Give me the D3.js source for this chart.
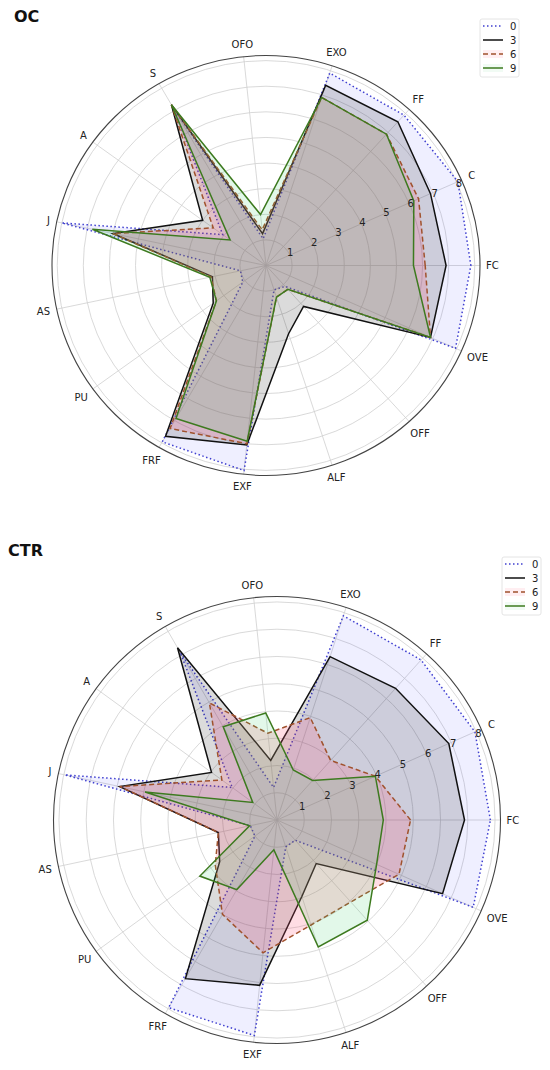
<!DOCTYPE html>
<head>
    <title>OC / CTR radar</title>
    <script src='https://cdn.jsdelivr.net/npm/d3@7/dist/d3.min.js'></script>
</head>
<style>
body {
  margin: 0;
  background: #fff;
  font-family: 'DejaVu Sans', 'Liberation Sans', Arial, sans-serif;
}
text {
    pointer-events: none;
}
</style>
<body>
    <svg></svg>
</body>

<script>

    // Data
    var axes = ['FC', 'C', 'FF', 'EXO', 'OFO', 'S', 'A', 'J', 'AS', 'PU', 'FRF', 'EXF', 'ALF', 'OFF', 'OVE'];
    var seriesNames = ['0', '3', '6', '9'];
    var radialTicks = [1, 2, 3, 4, 5, 6, 7, 8];

    // OC panel
    var oc0 = [7.85, 8.05, 7.9, 7.9, 1.05, 7.1, 2.05, 8.0, 1.0, 1.1, 7.95, 8.05, 1.0, 1.1, 7.95];
    var oc3 = [6.9, 6.9, 7.55, 7.4, 1.25, 7.25, 3.0, 6.0, 2.1, 2.5, 7.7, 7.05, 2.8, 2.15, 6.9];
    var oc6 = [6.1, 6.4, 6.9, 6.9, 1.4, 7.25, 2.5, 6.0, 2.15, 2.35, 7.35, 7.0, 1.3, 1.25, 6.9];
    var oc9 = [5.65, 6.2, 6.9, 6.9, 2.0, 7.25, 1.7, 6.8, 2.2, 2.35, 6.9, 6.9, 1.3, 1.25, 6.9];

    // CTR panel
    var ctr0 = [7.83, 7.95, 7.9, 7.88, 1.2, 7.1, 2.03, 7.96, 1.0, 1.0, 7.95, 7.95, 1.04, 1.0, 7.88];
    var ctr3 = [6.88, 6.9, 6.5, 6.3, 2.2, 7.3, 2.97, 5.9, 2.2, 2.6, 6.72, 6.1, 2.95, 2.15, 6.65];
    var ctr6 = [4.9, 3.95, 2.94, 3.95, 3.2, 4.96, 2.5, 5.9, 2.2, 2.8, 4.0, 4.9, 4.05, 4.05, 4.9];
    var ctr9 = [3.9, 3.95, 1.95, 1.93, 3.95, 3.95, 1.1, 4.95, 1.03, 3.5, 2.95, 1.1, 4.9, 4.95, 4.0];

    var rMax = 8.2;

    // Look of each series (same order as seriesNames)
    var styles = [
        { stroke: '#3f3fd0', dash: '1.5,2.5', fill: '#2020ff', fillOpacity: 0.07 },
        { stroke: '#111111', dash: null,      fill: '#000000', fillOpacity: 0.14 },
        { stroke: '#a0522d', dash: '5,3',     fill: '#ff5577', fillOpacity: 0.2 },
        { stroke: '#3d7a1f', dash: null,      fill: '#33cc66', fillOpacity: 0.14 }
    ];

    var vWidth = 550;
    var vHeight = 1070;

    var svg = d3.select('svg')
        .attr('width', vWidth)
        .attr('height', vHeight);

    drawRadar({ title: 'OC', titleX: 14, titleY: 22, cx: 266, cy: 265.5, radius: 214, sy: 210 / 214,
                series: [oc0, oc3, oc6, oc9], legendX: 480, legendY: 19 });
    drawRadar({ title: 'CTR', titleX: 8, titleY: 556, cx: 277, cy: 820, radius: 223.5, sy: 1,
                series: [ctr0, ctr3, ctr6, ctr9], legendX: 502, legendY: 557 });


    /**
     * Draw one radar panel.
     */
    function drawRadar(o) {
        var n = axes.length;
        var r = d3.scaleLinear().domain([0, rMax]).range([0, o.radius]);

        // angle of axis i, clockwise from 12 o'clock (what d3.lineRadial wants); axis 0 points east, going CCW
        function ang(i) { return Math.PI / 2 - i * 2 * Math.PI / n; }

        var g = svg.append('g');

        // plot group: polar coordinates, squeezed vertically a touch like the source image
        var p = g.append('g')
            .attr('transform', 'translate(' + o.cx + ',' + o.cy + ') scale(1,' + o.sy + ')');

        // Rings
        p.selectAll('circle.grid')
            .data(radialTicks)
            .enter().append('circle')
            .attr('class', 'grid')
            .attr('r', function (d) { return r(d); })
            .style('fill', 'none')
            .style('stroke', '#cfcfcf')
            .style('stroke-width', 0.8)
            .attr('vector-effect', 'non-scaling-stroke');

        // Spokes
        p.selectAll('line.spoke')
            .data(axes)
            .enter().append('line')
            .attr('class', 'spoke')
            .attr('x1', 0).attr('y1', 0)
            .attr('x2', function (d, i) { return r(rMax) * Math.sin(ang(i)); })
            .attr('y2', function (d, i) { return -r(rMax) * Math.cos(ang(i)); })
            .style('stroke', '#cfcfcf')
            .style('stroke-width', 0.8)
            .attr('vector-effect', 'non-scaling-stroke');

        // Series polygons
        var radial = d3.lineRadial()
            .angle(function (d, i) { return ang(i); })
            .radius(function (d) { return r(d); })
            .curve(d3.curveLinearClosed);

        o.series.forEach(function (vals, k) {
            var s = styles[k];
            p.append('path')
                .attr('d', radial(vals))
                .style('fill', s.fill)
                .style('fill-opacity', s.fillOpacity)
                .style('stroke', 'none');
            p.append('path')
                .attr('d', radial(vals))
                .style('fill', 'none')
                .style('stroke', s.stroke)
                .style('stroke-width', 1.5)
                .style('stroke-dasharray', s.dash)
                .style('stroke-linejoin', 'miter')
                .attr('vector-effect', 'non-scaling-stroke');
        });

        // Outer spine
        p.append('circle')
            .attr('r', r(rMax))
            .style('fill', 'none')
            .style('stroke', '#444')
            .style('stroke-width', 1.1)
            .attr('vector-effect', 'non-scaling-stroke');

        // Ring labels along 22.5 degrees
        var tickAngle = Math.PI / 2 - 22.5 * Math.PI / 180;
        g.selectAll('text.rtick')
            .data(radialTicks)
            .enter().append('text')
            .attr('class', 'rtick')
            .attr('x', function (d) { return o.cx + r(d) * Math.sin(tickAngle); })
            .attr('y', function (d) { return o.cy - r(d) * Math.cos(tickAngle) * o.sy - 3; })
            .attr('text-anchor', 'middle')
            .attr('dominant-baseline', 'middle')
            .style('font-size', '10px')
            .style('fill', '#222')
            .text(function (d) { return d; });

        // Axis labels just outside the spine
        g.selectAll('text.axis')
            .data(axes)
            .enter().append('text')
            .attr('class', 'axis')
            .style('font-size', '10px')
            .style('fill', '#222')
            .attr('text-anchor', 'middle')
            .attr('dominant-baseline', 'central')
            .text(function (d) { return d; })
            .each(function (d, i) {
                var a = ang(i);
                var w = this.getComputedTextLength() / 2;
                var off = o.radius + 6 + w * Math.abs(Math.sin(a)) + 5 * Math.abs(Math.cos(a));
                d3.select(this)
                    .attr('x', o.cx + off * Math.sin(a))
                    .attr('y', o.cy - off * Math.cos(a) * o.sy);
            });

        // Title
        g.append('text')
            .attr('x', o.titleX)
            .attr('y', o.titleY)
            .style('font-size', '16px')
            .style('font-weight', 'bold')
            .style('fill', '#111')
            .text(o.title);

        // Legend
        var leg = g.append('g')
            .attr('transform', 'translate(' + o.legendX + ',' + o.legendY + ')');
        leg.append('rect')
            .attr('width', 39).attr('height', 58)
            .attr('rx', 2)
            .style('fill', '#fff')
            .style('stroke', '#ddd')
            .style('stroke-width', 0.8);
        var item = leg.selectAll('g.item')
            .data(seriesNames)
            .enter().append('g')
            .attr('class', 'item')
            .attr('transform', function (d, i) { return 'translate(0,' + (7 + i * 14) + ')'; });
        item.append('rect')
            .attr('x', 3).attr('y', -4).attr('width', 20).attr('height', 8)
            .style('fill', function (d, i) { return styles[i].fill; })
            .style('fill-opacity', function (d, i) { return i > 1 ? styles[i].fillOpacity * 0.5 : 0; });
        item.append('line')
            .attr('x1', 3).attr('x2', 23)
            .style('stroke', function (d, i) { return styles[i].stroke; })
            .style('stroke-width', 1.5)
            .style('stroke-dasharray', function (d, i) { return styles[i].dash; });
        item.append('text')
            .attr('x', 30)
            .attr('dominant-baseline', 'central')
            .style('font-size', '10px')
            .style('fill', '#222')
            .text(function (d) { return d; });
    }

</script>
